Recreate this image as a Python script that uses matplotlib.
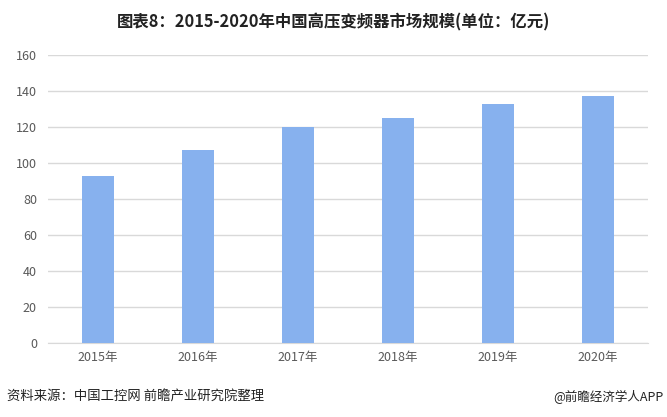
import matplotlib
matplotlib.use("Agg")
import matplotlib.pyplot as plt

plt.rcParams['font.family'] = ['Noto Sans CJK SC', 'DejaVu Sans']

years = ["2015年", "2016年", "2017年", "2018年", "2019年", "2020年"]
market_size = [93, 107, 120, 125, 133, 137]
y_ticks = [0, 20, 40, 60, 80, 100, 120, 140, 160]

fig = plt.figure(figsize=(6.67, 4.17), dpi=100)
ax = fig.add_axes([0.072, 0.1775, 0.899, 0.6905])

x = range(len(years))
ax.bar(x, market_size, width=0.32, color="#87B1EE", zorder=3)

ax.set_xlim(-0.5, len(years) - 0.5)
ax.set_ylim(0, 160)
ax.set_yticks(y_ticks)
ax.set_xticks(list(x))
ax.set_xticklabels(years)
ax.grid(axis="y", color="#D9D9D9", linewidth=1, zorder=0)
for s in ["left", "right", "top"]:
    ax.spines[s].set_visible(False)
ax.spines["bottom"].set_color("#D9D9D9")
ax.tick_params(axis="both", length=0, labelsize=9, colors="#595959")
ax.tick_params(axis="x", pad=6)
ax.tick_params(axis="y", pad=8)

fig.text(0.5, 0.947, "图表8：2015-2020年中国高压变频器市场规模(单位：亿元)",
         ha="center", va="center", fontsize=11.8, fontweight="bold", color="#222222")
fig.text(0.01, 0.048, "资料来源：中国工控网 前瞻产业研究院整理",
         ha="left", va="center", fontsize=9.6, color="#222222")
fig.text(0.995, 0.048, "@前瞻经济学人APP",
         ha="right", va="center", fontsize=9, color="#222222")

fig.savefig("out.png", dpi=100)
